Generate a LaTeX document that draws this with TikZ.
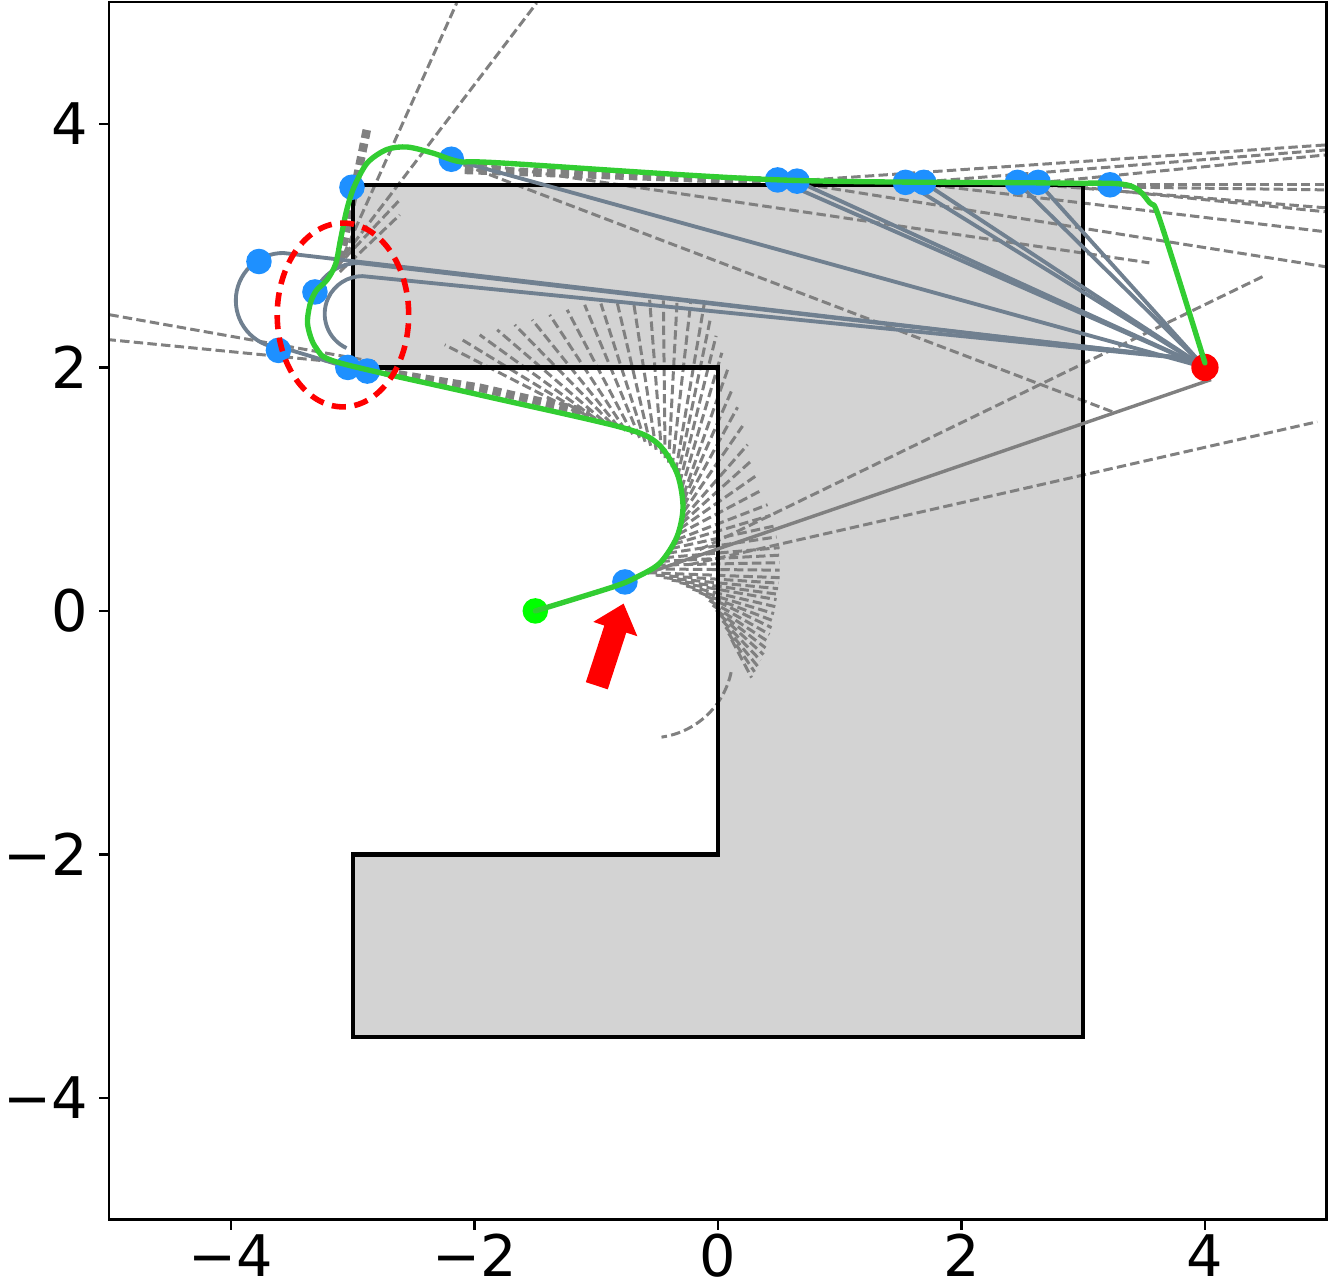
\documentclass[tikz,border=0pt]{standalone}
\usepackage{fontspec}
\setmainfont{DejaVu Sans}
\definecolor{obst}{HTML}{D3D3D3}
\definecolor{slate}{HTML}{708090}
\definecolor{raygray}{HTML}{808080}
\definecolor{pathgreen}{HTML}{32CD32}
\definecolor{dotblue}{HTML}{1E90FF}
\definecolor{startgreen}{HTML}{00FF00}
\begin{document}
\begin{tikzpicture}[
  ray/.style={draw=raygray, line width=0.7pt, dash pattern=on 2.2pt off 1pt},
  band/.style={draw=raygray, line width=2pt, dash pattern=on 2pt off 1.2pt},
  slateline/.style={draw=slate, line width=0.9pt},
  ticklab/.style={font=\fontsize{13.4}{16}\selectfont, inner sep=0pt},
  frameline/.style={line width=0.6pt},
]
\useasboundingbox (-5.897,-5.552) rectangle (5.027,5.018);
% named points
\coordinate (g) at (4,2);
\coordinate (gl) at (3.97,2.06);
\coordinate (s) at (-1.5,0);
\coordinate (b1) at (-0.764,0.238);
\coordinate (b2) at (-3.77,2.87);
\coordinate (b3) at (-3.31,2.62);
\coordinate (b4) at (-3.61,2.14);
\coordinate (b5) at (-3.04,2.0);
\coordinate (b6) at (-2.88,1.97);
\coordinate (b7) at (-3.006,3.48);
\coordinate (b8) at (-2.19,3.71);
\coordinate (b9) at (0.49,3.54);
\coordinate (b10) at (0.65,3.53);
\coordinate (b11) at (1.54,3.52);
\coordinate (b12) at (1.69,3.52);
\coordinate (b13) at (2.46,3.52);
\coordinate (b14) at (2.63,3.52);
\coordinate (b15) at (3.22,3.50);
% obstacle
\fill[obst] (-3,3.5) -- (3,3.5) -- (3,-3.5) -- (-3,-3.5) -- (-3,-2) -- (0,-2) -- (0,2) -- (-3,2) -- cycle;
% dashed rays (pixel coordinates)
\begin{scope}[x=0.0082136cm, y=-0.0082136cm, xshift=-5.897cm, yshift=5.018cm]
\foreach \xa/\ya/\xb/\yb/\xc/\yc/\xd/\yd in {
580/414/445/345/612/424/515/325,
612/424/515/325/640/438/585/305,
640/438/585/305/662/454/650/300,
662/454/650/300/676/472/705/302,
676/472/705/302/684/495/728/370,
684/495/728/370/684/518/748/445,
684/518/748/445/677/540/768/505,
677/540/768/505/665/558/780/548,
665/558/780/548/648/573/780/578,
648/573/780/578/680/583/777/600,
680/583/777/600/706/596/772/628,
706/596/772/628/720/615/764/655,
720/615/764/655/732/640/752/678}
{\foreach \t in {0,0.25,0.5,0.75}{
  \draw[ray] ({\xa+\t*(\xc-\xa)},{\ya+\t*(\yc-\ya)}) -- ({\xb+\t*(\xd-\xb)},{\yb+\t*(\yd-\yb)});}}
\draw[ray] (732,640) -- (752,678);
\draw[ray] (338,268) -- (457,3);
\draw[ray] (345,255) -- (537,3);
\draw[ray] (336,268) -- (400,200);
\draw[ray] (340,272) -- (400,215);
\draw[band] (367,130) -- (340,262);
\draw[band] (358,368) -- (480,388) -- (590,413);
\draw[band] (465,170) -- (770,181);
\draw[ray] (375,362) -- (110,315);
\draw[ray] (375,366) -- (110,340);
\draw[ray] (451,160) -- (1113,412);
\draw[ray] (451,160) -- (1150,263);
\draw[ray] (778,180) -- (1327,267);
\draw[ray] (905,182) -- (1327,232);
\draw[ray] (1017,183) -- (1327,208);
\draw[ray] (1038,183) -- (1327,212);
\draw[ray] (1110,185) -- (1327,185);
\draw[ray] (1110,187) -- (1327,190);
\draw[ray] (797,181) -- (1327,145);
\draw[ray] (924,182) -- (1327,150);
\draw[ray] (1038,183) -- (1327,155);
\draw[ray] (700,550) -- (1267,275);
\draw[ray] (690,565) -- (1318,422);
\end{scope}
\draw[ray] (-0.5585,-0.3614) ++(-12:0.6817) arc[start angle=-12, end angle=-82, radius=0.6817];
% obstacle outline
\draw[line width=1pt, line join=miter] (-3,3.5) -- (3,3.5) -- (3,-3.5) -- (-3,-3.5) -- (-3,-2) -- (0,-2) -- (0,2) -- (-3,2) -- cycle;
% candidate paths (slate)
\draw[slateline] (b5) -- (-3.57,2.16) arc[start angle=-90, end angle=-270, radius=0.39] -- (gl);
\draw[slateline] (-3.051,2.159) arc[start angle=245, end angle=90, radius=0.31] -- (gl);
\draw[slateline] (b3) arc[start angle=157, end angle=90, radius=0.39] -- (gl);
\foreach \b in {b8,b9,b10,b11,b12,b13,b14}{\draw[slateline] (\b) -- (g);}
\coordinate (gs1) at (4.05,1.90);
\coordinate (gs2) at (-0.58,0.31);
\draw[raygray, line width=0.8pt] (gs1) -- (gs2);
% dots
\foreach \b in {b1,b2,b3,b4,b5,b6,b7,b8,b9,b10,b11,b12,b13,b14,b15}{\fill[dotblue] (\b) circle (0.105);}
\fill[red] (g) circle (0.112);
\fill[startgreen] (s) circle (0.105);
% executed path
\draw[pathgreen, line width=1.25pt, line join=round, line cap=round] plot[smooth, tension=0.5] coordinates {
(-1.5,0) (-0.862,0.197) (-0.665,0.279) (-0.476,0.394) (-0.337,0.608) (-0.287,0.854) (-0.337,1.133) (-0.501,1.380) (-0.805,1.511) (-1.955,1.774) (-3.105,2.037) (-3.30,2.16) (-3.37,2.35) (-3.35,2.52) (-3.30,2.63) (-3.21,2.72) (-3.14,2.85) (-3.10,3.05) (-3.05,3.29) (-2.99,3.48) (-2.88,3.68) (-2.72,3.79) (-2.55,3.81) (-2.34,3.76) (-2.12,3.69) (-1.791,3.680) (0.509,3.540) (2.727,3.515) (3.359,3.499) (3.548,3.351) (3.630,3.211) (4.0,2.037)};
% highlight ellipse
\draw[red, line width=1.3pt, dash pattern=on 3.3pt off 2pt] (-3.08,2.431) ellipse [x radius=0.54, y radius=0.755];
% arrow
\fill[red] (-0.775,0.060) -- (-1.024,-0.090) -- (-0.933,-0.120) -- (-1.085,-0.585) -- (-0.905,-0.644) -- (-0.753,-0.178) -- (-0.662,-0.208) -- cycle;
% axes
\draw[frameline] (-5,-5) rectangle (5,5);
\foreach \v/\l in {-4/−4,-2/−2,0/0,2/2,4/4}{
  \draw[frameline] (\v,-5) -- (\v,-5.085);
  \node[ticklab, anchor=base] (xl\v) at (\v,-5.47) {\l};
  \draw[frameline] (-5,\v) -- (-5.085,\v);
  \node[ticklab, anchor=east] (yl\v) at (-5.164,\v) {\l};
}
\end{tikzpicture}
\end{document}
